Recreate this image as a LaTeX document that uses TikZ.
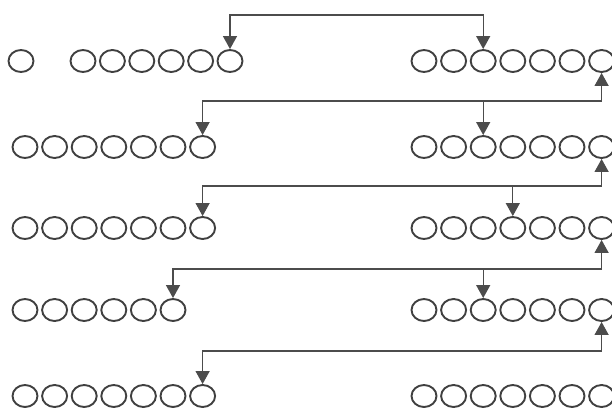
\documentclass[tikz,border=0pt]{standalone}
\usetikzlibrary{shapes.geometric, arrows.meta}
\begin{document}
\begin{tikzpicture}[x=1pt, y=-1pt,
    ring/.style={ellipse, draw=black!75, line width=1.9pt, minimum width=25pt, minimum height=22pt, inner sep=0pt},
    link/.style={draw=black!70, line width=1.3pt},
    headed/.style={-{Triangle[width=14pt, length=13pt]}}]
  \useasboundingbox (0,0) rectangle (612,407);

  % Left rows
  \node[ring] (L1-0) at (21,61) {};
  \foreach \i in {1,...,6}
    \node[ring] (L1-\i) at ({83+(\i-1)*29.4},61) {};
  \foreach \r/\y/\n in {2/147/7, 3/228/7, 4/310/6, 5/396/7}
    \foreach \i in {1,...,\n}
      \node[ring] (L\r-\i) at ({25+(\i-1)*29.6},\y) {};

  % Right rows (last ring runs off the edge)
  \foreach \r/\y in {1/61, 2/147, 3/228, 4/310, 5/396}
    \foreach \i in {1,...,7}
      \node[ring] (R\r-\i) at ({424+(\i-1)*29.6},\y) {};

  % Bus levels
  \coordinate (busA) at (0,15);
  \coordinate (busB) at (0,101);
  \coordinate (busC) at (0,186);
  \coordinate (busD) at (0,269);
  \coordinate (busE) at (0,351);

  % Top link
  \draw[link, {Triangle[width=14pt, length=13pt]}-{Triangle[width=14pt, length=13pt]}]
    (L1-6.north) -- (L1-6.north |- busA) -| (R1-3.north);

  % Row 1 -> row 2
  \draw[link, headed] (R1-7.south |- busB) -- (R1-7.south);
  \draw[link, headed] (R1-7.south |- busB) -| (L2-7.north);
  \draw[link, headed] (R2-3.north |- busB) -- (R2-3.north);

  % Row 2 -> row 3
  \draw[link, headed] (R2-7.south |- busC) -- (R2-7.south);
  \draw[link, headed] (R2-7.south |- busC) -| (L3-7.north);
  \draw[link, headed] (R3-4.north |- busC) -- (R3-4.north);

  % Row 3 -> row 4
  \draw[link, headed] (R3-7.south |- busD) -- (R3-7.south);
  \draw[link, headed] (R3-7.south |- busD) -| (L4-6.north);
  \draw[link, headed] (R4-3.north |- busD) -- (R4-3.north);

  % Row 4 -> row 5
  \draw[link, headed] (R4-7.south |- busE) -- (R4-7.south);
  \draw[link, headed] (R4-7.south |- busE) -| (L5-7.north);
\end{tikzpicture}
\end{document}
